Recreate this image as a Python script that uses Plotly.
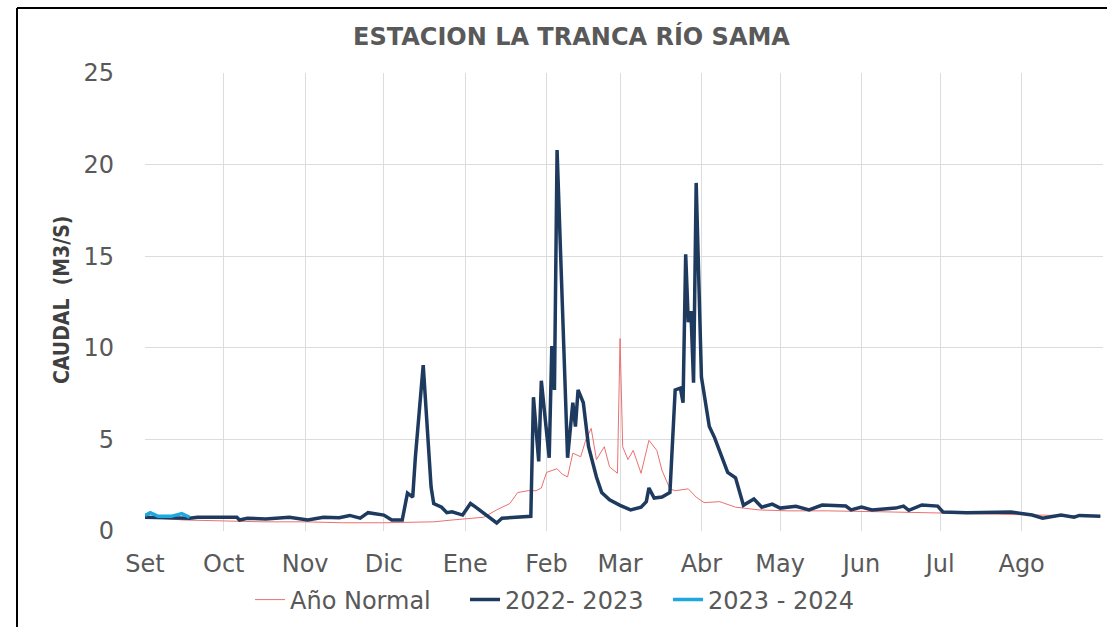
import pandas as pd
import plotly.graph_objects as go

START = pd.Timestamp("2022-09-01")

# Día (desde 1 de setiembre) y caudal (m3/s)
normal_days = [0, 5, 15, 30, 45, 61, 75, 91, 110, 117, 129, 134, 139, 142, 146, 149, 151, 153,
               157, 159, 161, 163, 166, 168, 170, 172, 175, 177, 180, 181, 182, 184, 186, 189,
               192, 195, 197, 200, 202, 207, 210, 213, 219, 225, 234, 245, 260, 280, 300, 320,
               340, 364]
normal_vals = [0.85, 0.7, 0.6, 0.55, 0.5, 0.5, 0.45, 0.45, 0.5, 0.6, 0.75, 1.15, 1.5, 2.1, 2.2,
               2.2, 2.35, 3.2, 3.4, 3.1, 2.95, 4.25, 4.05, 5.0, 5.6, 3.9, 4.6, 3.5, 3.15, 10.5,
               4.6, 3.9, 4.4, 3.15, 4.95, 4.4, 3.3, 2.3, 2.2, 2.3, 1.85, 1.55, 1.6, 1.3, 1.15,
               1.1, 1.1, 1.05, 1.0, 0.95, 0.9, 0.8]

y2223_days = [0, 6, 17, 20, 35, 36, 39, 46, 55, 62, 68, 74, 78, 82, 85, 91, 94, 98, 100, 102,
              103, 106, 109, 110, 113, 115, 117, 121, 124, 126, 130, 134, 136, 146, 147, 148,
              150, 151, 154, 155, 156, 157, 161, 163, 164, 165, 167, 169, 172, 174, 177, 181,
              185, 189, 191, 192, 194, 197, 200, 202, 204, 205, 206, 207, 208, 209, 210, 212,
              215, 217, 220, 222, 225, 228, 232, 235, 239, 242, 248, 253, 258, 267, 269, 273,
              277, 286, 289, 291, 296, 302, 304, 313, 330, 334, 338, 342, 349, 354, 356, 364]
y2223_vals = [0.75, 0.72, 0.7, 0.75, 0.75, 0.6, 0.7, 0.65, 0.75, 0.6, 0.75, 0.72, 0.85, 0.7,
              1.0, 0.87, 0.6, 0.6, 2.07, 1.85, 4.0, 9.05, 2.4, 1.5, 1.3, 1.0, 1.05, 0.87, 1.5,
              1.3, 0.87, 0.44, 0.7, 0.82, 0.8, 7.3, 3.8, 8.2, 4.0, 10.1, 7.7, 20.8, 4.0, 7.0,
              5.7, 7.7, 7.0, 4.6, 2.95, 2.1, 1.7, 1.4, 1.15, 1.3, 1.6, 2.35, 1.8, 1.85, 2.1,
              7.7, 7.8, 7.0, 15.1, 11.4, 12.0, 8.1, 19.0, 8.4, 5.7, 5.1, 4.0, 3.2, 2.9, 1.4,
              1.75, 1.3, 1.47, 1.25, 1.35, 1.15, 1.42, 1.36, 1.15, 1.3, 1.15, 1.25, 1.36, 1.13,
              1.42, 1.36, 1.04, 1.0, 1.04, 0.95, 0.87, 0.7, 0.87, 0.75, 0.85, 0.8]

y2324_days = [0, 2, 5, 10, 14, 16, 17]
y2324_vals = [0.85, 1.0, 0.8, 0.8, 0.95, 0.8, 0.75]

month_labels = ["Set", "Oct", "Nov", "Dic", "Ene", "Feb", "Mar", "Abr", "May", "Jun", "Jul", "Ago"]
month_starts = pd.date_range("2022-09-01", periods=12, freq="MS")


def to_dates(days):
    return [START + pd.Timedelta(days=d) for d in days]


FONT = "DejaVu Sans, Open Sans, sans-serif"
GRAY = "#595959"

fig = go.Figure()
fig.add_trace(go.Scatter(x=to_dates(normal_days), y=normal_vals, mode="lines",
                         name="Año Normal", legendwidth=170,
                         line=dict(color="#EC7070", width=1)))
fig.add_trace(go.Scatter(x=to_dates(y2223_days), y=y2223_vals, mode="lines",
                         name="2022- 2023", legendwidth=158,
                         line=dict(color="#1F3A5F", width=3.5)))
fig.add_trace(go.Scatter(x=to_dates(y2324_days), y=y2324_vals, mode="lines",
                         name="2023 - 2024",
                         line=dict(color="#1DA8E0", width=3.5)))

# plot area: x 145..1103 px, y 73..531 px
L, R, T, B = 145, 4, 73, 96
W, H = 1107 - L - R, 627 - T - B


def px(x):
    return (x - L) / W


def py(y):
    return (627 - B - y) / H


fig.update_layout(
    width=1107, height=627,
    margin=dict(l=L, r=R, t=T, b=B, autoexpand=False),
    paper_bgcolor="white", plot_bgcolor="white",
    showlegend=True,
    legend=dict(orientation="h", x=px(250), xanchor="left", y=py(600), yanchor="middle",
                font=dict(family=FONT, size=24, color=GRAY), itemwidth=30,
                bgcolor="rgba(0,0,0,0)"),
    xaxis=dict(type="date", range=[START, START + pd.Timedelta(days=365)],
               tickvals=month_starts, ticktext=month_labels, automargin=False,
               showgrid=True, gridcolor="#DCDCDC", gridwidth=1, zeroline=False,
               showline=False, ticks="", ticklabelstandoff=16,
               tickfont=dict(family=FONT, size=24, color=GRAY)),
    yaxis=dict(range=[0, 25], tickvals=[0, 5, 10, 15, 20, 25], showgrid=True,
               automargin=False,
               gridcolor="#DCDCDC", gridwidth=1, zeroline=False, showline=False,
               ticks="", ticklabelstandoff=30,
               tickfont=dict(family=FONT, size=24, color=GRAY)),
    annotations=[
        dict(text="<b>ESTACION LA TRANCA RÍO SAMA</b>", xref="paper", yref="paper",
             x=px(571), y=py(36), xanchor="center", yanchor="middle", showarrow=False,
             font=dict(family=FONT, size=24, color=GRAY)),
        dict(text="<b>CAUDAL  (M3/S)</b>", xref="paper", yref="paper",
             x=px(62), y=py(300), xanchor="center", yanchor="middle", showarrow=False,
             textangle=-90,
             font=dict(family="Liberation Sans Narrow, DejaVu Sans Condensed, Arial Narrow, sans-serif",
                       size=21, color="#404040")),
    ],
    shapes=[
        dict(type="line", xref="paper", yref="paper", x0=px(17), x1=px(17), y0=py(8), y1=py(640),
             line=dict(color="black", width=2)),
        dict(type="line", xref="paper", yref="paper", x0=px(17), x1=px(1115), y0=py(8), y1=py(8),
             line=dict(color="black", width=2)),
    ],
)

fig.write_html("out.html", config={"displayModeBar": False},
               post_script="document.body.style.margin='0px';document.body.style.overflow='hidden';")
